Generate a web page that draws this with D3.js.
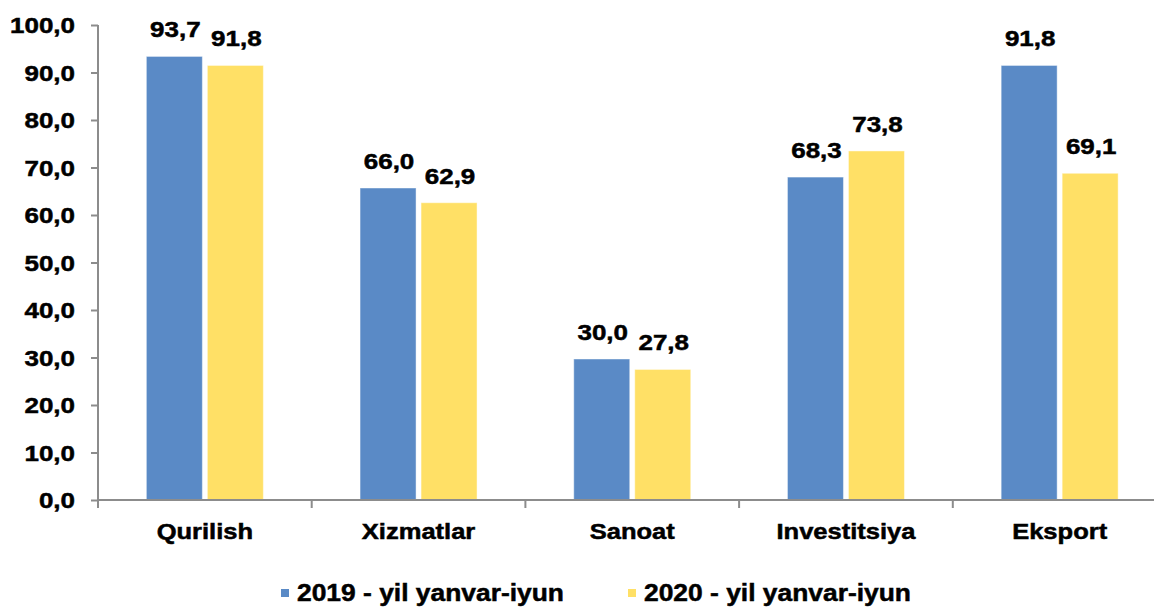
<!DOCTYPE html>
<html>
<head>
<meta charset="utf-8">
<script src="https://cdn.jsdelivr.net/npm/d3@7"></script>
<style>
  html, body { margin: 0; padding: 0; background: #fff; }
  svg { display: block; }
  text { font-family: "Liberation Sans", Arial, sans-serif; font-weight: bold; fill: #000; stroke: #000; stroke-width: 0.5px; }
</style>
</head>
<body>
<svg id="chart" width="1154" height="608"></svg>
<script>
const categories = ["Qurilish", "Xizmatlar", "Sanoat", "Investitsiya", "Eksport"];
const seriesNames = ["2019 - yil yanvar-iyun", "2020 - yil yanvar-iyun"];
const values2019 = [93.7, 66.0, 30.0, 68.3, 91.8];
const values2020 = [91.8, 62.9, 27.8, 73.8, 69.1];
const yTicks = [0, 10, 20, 30, 40, 50, 60, 70, 80, 90, 100];
const colors = ["#5A8AC6", "#FFE066"];

(function () {
const svg = d3.select("#chart");
const fmt = v => d3.format(".1f")(v).replace(".", ",");

const plotLeft = 98, plotBottom = 500, plotTop = 25;
const step = 213.7;
const x = d3.scaleBand().domain(categories).range([plotLeft, plotLeft + step * categories.length]).padding(0);
const y = d3.scaleLinear().domain([0, 100]).range([plotBottom, plotTop]);
const inner = d3.scaleBand().domain([0, 1]).range([-58.5, 58.5]).paddingInner(5 / 61).paddingOuter(0);

const axisColor = "#8c8c8c";

// y axis
const yAxis = d3.axisLeft(y).tickValues(yTicks).tickSize(7).tickFormat("");
const gy = svg.append("g").attr("transform", `translate(${plotLeft},0)`).call(yAxis);
gy.select(".domain").attr("stroke", axisColor).attr("stroke-width", 2).attr("d", `M0,${plotTop}V${plotBottom}`);
gy.selectAll(".tick line").attr("stroke", axisColor).attr("stroke-width", 2);

// y tick labels
svg.append("g").selectAll("text").data(yTicks).join("text")
  .attr("transform", d => `translate(75,${y(d) + 8}) scale(1.18,1)`)
  .attr("text-anchor", "end")
  .attr("font-size", 22)
  .text(d => fmt(d));

// bars
const data = categories.map((c, i) => ({ cat: c, vals: [values2019[i], values2020[i]] }));
const groups = svg.append("g").selectAll("g").data(data).join("g")
  .attr("transform", d => `translate(${x(d.cat) + x.bandwidth() / 2},0)`);

groups.selectAll("rect").data(d => d.vals.map((v, s) => ({ v, s }))).join("rect")
  .attr("x", d => inner(d.s))
  .attr("width", inner.bandwidth())
  .attr("y", d => y(d.v) + 1.5)
  .attr("height", d => y(0) - y(d.v) - 1.5)
  .attr("fill", d => colors[d.s])
  .attr("stroke", "#ffffff")
  .attr("stroke-opacity", 0.45)
  .attr("stroke-width", 1);

groups.selectAll("text.val").data(d => d.vals.map((v, s) => ({ v, s }))).join("text")
  .attr("class", "val")
  .attr("transform", d => `translate(${inner(d.s) + inner.bandwidth() / 2 + 1},${y(d.v) - 17.5}) scale(1.18,1)`)
  .attr("text-anchor", "middle")
  .attr("font-size", 22)
  .text(d => fmt(d.v));

// x axis
const xAxis = d3.axisBottom(x).tickSize(0).tickFormat("");
const gx = svg.append("g").attr("transform", `translate(0,${plotBottom})`).call(xAxis);
gx.select(".domain").attr("stroke", axisColor).attr("stroke-width", 2).attr("d", `M${plotLeft},0H${plotLeft + step * categories.length}`);
const boundaries = d3.range(categories.length + 1).map(i => plotLeft + i * step);
gx.append("g").selectAll("line").data(boundaries).join("line")
  .attr("x1", d => d).attr("x2", d => d).attr("y1", 0).attr("y2", 8)
  .attr("stroke", axisColor).attr("stroke-width", 2);

// category labels
svg.append("g").selectAll("text").data(categories).join("text")
  .attr("transform", d => `translate(${x(d) + x.bandwidth() / 2},539) scale(1.16,1)`)
  .attr("text-anchor", "middle")
  .attr("font-size", 22)
  .text(d => d);

// legend
const legendX = [281, 628];
const lg = svg.append("g").selectAll("g").data(seriesNames).join("g")
  .attr("transform", (d, i) => `translate(${legendX[i]},0)`);
lg.append("rect").attr("x", 0).attr("y", 589).attr("width", 8).attr("height", 8)
  .attr("fill", (d, i) => colors[i]);
lg.append("text")
  .attr("transform", "translate(16,601) scale(1.1,1)")
  .attr("font-size", 24)
  .text(d => d);
})();
</script>
</body>
</html>
